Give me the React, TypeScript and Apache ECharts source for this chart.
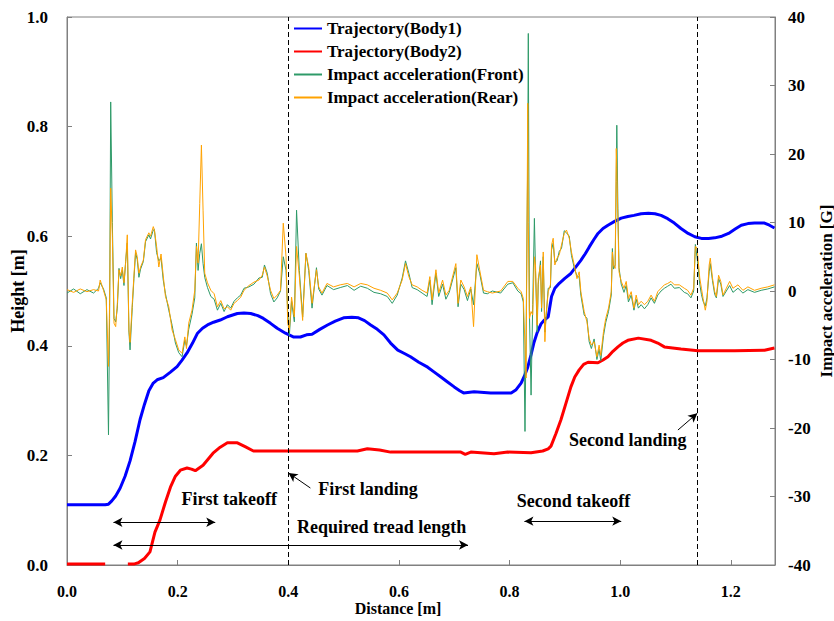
import React, { useEffect, useRef } from "react";
import * as echarts from "echarts";

// Trajectory of Body1: [distance m, height m]
const body1: [number, number][] = [
  [0, 0.11], [0.069, 0.11], [0.075, 0.111], [0.081, 0.117], [0.088, 0.126], [0.096, 0.14],
  [0.105, 0.162], [0.114, 0.19], [0.123, 0.225], [0.132, 0.265], [0.14, 0.293], [0.148, 0.318],
  [0.156, 0.332], [0.163, 0.338], [0.174, 0.342], [0.187, 0.352], [0.199, 0.362], [0.208, 0.374],
  [0.217, 0.387], [0.227, 0.405], [0.236, 0.423], [0.245, 0.432], [0.254, 0.438], [0.265, 0.443],
  [0.277, 0.447], [0.29, 0.453], [0.308, 0.459], [0.32, 0.46], [0.332, 0.459], [0.345, 0.455],
  [0.355, 0.45], [0.368, 0.441], [0.38, 0.432], [0.395, 0.423], [0.41, 0.416], [0.422, 0.416],
  [0.433, 0.42], [0.443, 0.421], [0.457, 0.43], [0.471, 0.438], [0.485, 0.445], [0.5, 0.451],
  [0.515, 0.452], [0.527, 0.451], [0.538, 0.446], [0.549, 0.438], [0.561, 0.43], [0.573, 0.42],
  [0.585, 0.405], [0.598, 0.392], [0.61, 0.386], [0.621, 0.38], [0.636, 0.37], [0.652, 0.361],
  [0.664, 0.352], [0.676, 0.343], [0.688, 0.334], [0.7, 0.325], [0.71, 0.318], [0.717, 0.314],
  [0.736, 0.316], [0.766, 0.314], [0.79, 0.314], [0.803, 0.314], [0.812, 0.32], [0.821, 0.332],
  [0.827, 0.345], [0.833, 0.361], [0.839, 0.384], [0.844, 0.405], [0.85, 0.424], [0.857, 0.44],
  [0.863, 0.447], [0.87, 0.453], [0.876, 0.49], [0.882, 0.505], [0.89, 0.514], [0.9, 0.523],
  [0.911, 0.532], [0.92, 0.544], [0.929, 0.556], [0.937, 0.568], [0.944, 0.58], [0.952, 0.593],
  [0.96, 0.605], [0.969, 0.614], [0.978, 0.62], [0.99, 0.627], [1.002, 0.633], [1.014, 0.636],
  [1.025, 0.638], [1.038, 0.641], [1.051, 0.642], [1.063, 0.641], [1.074, 0.638], [1.086, 0.632],
  [1.098, 0.624], [1.11, 0.614], [1.123, 0.605], [1.135, 0.599], [1.147, 0.596], [1.16, 0.596],
  [1.171, 0.597], [1.184, 0.6], [1.196, 0.605], [1.208, 0.613], [1.219, 0.62], [1.231, 0.623],
  [1.243, 0.624], [1.261, 0.624], [1.27, 0.62], [1.279, 0.615],
];

// Trajectory of Body2: [distance m, height m] ("-" = no data)
const body2: (number | string)[][] = [
  [0, 0.002], [0.069, 0.002], [0.09, "-"], [0.11, 0.002], [0.122, 0.002], [0.129, 0.004],
  [0.14, 0.012], [0.15, 0.024], [0.159, 0.06], [0.168, 0.082], [0.178, 0.115], [0.187, 0.142],
  [0.196, 0.162], [0.205, 0.173], [0.217, 0.177], [0.225, 0.175], [0.232, 0.172], [0.246, 0.182],
  [0.255, 0.193], [0.264, 0.204], [0.277, 0.215], [0.29, 0.223], [0.308, 0.223], [0.322, 0.216],
  [0.337, 0.208], [0.398, 0.208], [0.525, 0.208], [0.543, 0.212], [0.565, 0.21], [0.585, 0.206],
  [0.712, 0.206], [0.72, 0.202], [0.73, 0.206], [0.772, 0.203], [0.797, 0.206], [0.839, 0.205],
  [0.86, 0.208], [0.87, 0.212], [0.875, 0.217], [0.884, 0.24], [0.893, 0.265], [0.902, 0.295],
  [0.911, 0.325], [0.918, 0.343], [0.926, 0.356], [0.934, 0.366], [0.942, 0.37], [0.96, 0.369],
  [0.969, 0.374], [0.978, 0.38], [0.987, 0.39], [0.996, 0.398], [1.005, 0.405], [1.014, 0.41],
  [1.033, 0.414], [1.056, 0.41], [1.068, 0.405], [1.08, 0.398], [1.095, 0.396], [1.11, 0.394],
  [1.141, 0.391], [1.207, 0.391], [1.261, 0.392], [1.279, 0.396],
];

// Impact acceleration samples (distance m)
const accX = [
  0, 0.012, 0.024, 0.036, 0.048, 0.057, 0.06, 0.066, 0.071, 0.075, 0.077, 0.079, 0.082, 0.085,
  0.088, 0.091, 0.094, 0.097, 0.1, 0.103, 0.106, 0.109, 0.112, 0.114, 0.118, 0.121, 0.124, 0.127,
  0.13, 0.133, 0.138, 0.142, 0.148, 0.151, 0.156, 0.158, 0.162, 0.166, 0.17, 0.174, 0.178, 0.184,
  0.19, 0.196, 0.202, 0.208, 0.213, 0.216, 0.22, 0.226, 0.231, 0.234, 0.237, 0.24, 0.243, 0.246,
  0.249, 0.254, 0.26, 0.266, 0.272, 0.278, 0.284, 0.29, 0.296, 0.302, 0.308, 0.314, 0.32, 0.329,
  0.338, 0.347, 0.353, 0.357, 0.362, 0.368, 0.374, 0.38, 0.386, 0.391, 0.396, 0.399, 0.402, 0.406,
  0.411, 0.415, 0.42, 0.426, 0.432, 0.437, 0.443, 0.451, 0.455, 0.461, 0.47, 0.482, 0.494, 0.507,
  0.519, 0.531, 0.543, 0.555, 0.567, 0.579, 0.588, 0.597, 0.606, 0.612, 0.618, 0.624, 0.633, 0.642,
  0.651, 0.656, 0.66, 0.667, 0.672, 0.679, 0.685, 0.691, 0.703, 0.707, 0.712, 0.718, 0.724, 0.73,
  0.735, 0.741, 0.746, 0.753, 0.76, 0.769, 0.784, 0.797, 0.806, 0.815, 0.821, 0.825, 0.828, 0.83,
  0.833, 0.834, 0.836, 0.839, 0.842, 0.845, 0.847, 0.85, 0.852, 0.856, 0.858, 0.861, 0.864, 0.866,
  0.87, 0.874, 0.876, 0.879, 0.882, 0.886, 0.89, 0.894, 0.899, 0.903, 0.908, 0.912, 0.917, 0.922,
  0.926, 0.929, 0.935, 0.94, 0.944, 0.948, 0.953, 0.958, 0.962, 0.965, 0.97, 0.974, 0.979, 0.984,
  0.986, 0.988, 0.991, 0.993, 0.994, 0.996, 0.998, 1.002, 1.007, 1.011, 1.015, 1.02, 1.025, 1.029,
  1.033, 1.038, 1.044, 1.05, 1.056, 1.062, 1.068, 1.074, 1.08, 1.086, 1.092, 1.098, 1.107, 1.116,
  1.122, 1.128, 1.133, 1.136, 1.139, 1.144, 1.147, 1.15, 1.154, 1.157, 1.161, 1.163, 1.167, 1.171,
  1.174, 1.178, 1.182, 1.186, 1.192, 1.198, 1.204, 1.213, 1.222, 1.231, 1.243, 1.255, 1.267, 1.279,
];

// Impact acceleration (Front) [G]
const accFront = [
  -0.3, 0.3, -0.4, 0.2, -0.3, 0.4, 1.2, 0.3, -1.0, -21.0, -4.0, 27.6, 10.0, -4.0,
  -4.5, -2.5, 3.3, 1.8, 3.0, 0.8, 4.3, 7.0, -6.0, -8.6, -2.4, 1.8, 5.6, 4.6,
  2.0, 3.2, 4.3, 7.2, 8.2, 7.6, 8.9, 9.0, 5.6, 4.4, 4.8, 1.6, -0.4, -2.8,
  -5.0, -7.6, -9.0, -9.6, -7.2, -8.0, -5.6, -3.4, -1.0, 7.0, 3.0, 5.5, 6.9, 4.0,
  2.0, 0.5, -0.8, -1.2, -2.8, -1.8, -3.0, -2.0, -2.5, -1.5, -1.0, -0.6, 0.4, 0.6,
  1.0, 1.9, 2.0, 3.8, 2.6, -0.4, -1.6, -1.0, 0.0, 5.0, 3.0, -3.0, -6.5, -1.5,
  -4.5, 11.8, 3.0, -3.8, 5.5, 3.0, -2.5, 3.4, 0.3, -0.6, 0.8, 0.2, 0.5, 0.8,
  0.1, 0.7, 0.4, -0.2, -0.4, -0.8, -1.8, -0.6, 1.9, 4.4, 2.6, 0.5, 0.2, -0.3,
  -0.8, 1.6, -2.0, 2.6, -0.8, 1.0, -1.2, -0.2, 3.4, -2.3, 1.0, 0.2, -1.4, 0.3,
  -2.0, 4.0, 2.6, -0.3, -0.4, 0.0, -0.3, 1.0, 1.2, 0.0, -0.4, -1.6, -20.5, -6.0,
  20.0, 37.6, -3.0, -15.2, -2.0, 10.6, 3.0, -6.0, 1.0, 4.4, -3.0, 5.0, -6.0, -4.0,
  0.4, 0.5, 6.0, 7.0, 4.2, 4.4, 5.8, 6.2, 8.8, 8.5, 8.0, 5.2, 3.4, 2.2,
  2.0, -0.6, -3.5, -4.0, -7.4, -8.4, -7.0, -10.0, -8.5, -10.2, -6.5, -4.6, -3.0, -0.6,
  6.2, 3.2, 3.8, 16.0, 24.2, 12.0, 3.4, 1.0, -0.2, 0.8, -1.6, -0.6, -2.8, -1.2,
  -2.5, -2.0, -2.6, -2.0, -1.0, -1.8, -0.6, 0.0, 0.4, 0.7, 1.0, 0.4, 0.5, -0.2,
  -0.4, -1.0, 0.0, 6.8, 5.0, 1.0, -0.5, -1.5, -2.2, -1.0, 2.8, 4.0, 1.5, -0.5,
  -1.0, 1.8, 1.0, -0.8, 0.0, 0.8, -0.2, 0.4, -0.3, 0.2, -0.2, 0.1, 0.3, 0.6,
];

// Impact acceleration (Rear) [G]
const accRear = [
  0.2, -0.2, 0.3, -0.1, 0.2, 0.0, 1.6, 0.1, -1.3, -11.0, -2.0, 15.0, 8.0, -4.7,
  -5.2, -1.8, 3.1, 2.2, 3.5, 1.2, 4.1, 8.2, -5.7, -7.5, -1.8, 2.2, 6.0, 5.0,
  2.6, 3.5, 4.5, 7.5, 8.5, 8.0, 9.4, 8.9, 6.5, 3.5, 5.4, 2.2, -0.8, -2.3,
  -5.7, -7.1, -8.6, -9.1, -6.7, -8.4, -4.7, -2.8, 0.1, 6.5, 4.1, 12.8, 21.3, 11.8,
  2.6, 1.2, 0.1, -0.4, -2.3, -1.4, -2.6, -2.3, -2.8, -1.8, -1.4, -0.9, 0.1, 0.8,
  1.3, 1.6, 2.3, 3.5, 2.2, 0.1, -1.1, -0.6, 0.1, 9.9, 5.0, -4.7, -5.7, -0.9,
  -3.8, 6.5, 2.2, -4.3, 5.5, 3.5, -1.8, 3.1, 0.6, -0.3, 1.1, 0.6, 0.9, 1.1,
  0.6, 1.1, 0.9, 0.4, 0.1, -0.3, -1.3, -0.3, 1.6, 4.0, 2.1, 0.9, 0.6, 0.1,
  -0.3, 2.1, -1.3, 3.1, -0.3, 1.6, -0.6, 0.1, 4.0, -1.8, 1.6, 0.6, -0.8, 0.6,
  -5.2, 5.3, 3.1, 0.1, -0.1, -0.3, 0.0, 1.4, 1.4, 0.4, -0.1, -1.1, -8.0, -12.7,
  27.4, 10.0, -4.0, -3.0, -3.5, 5.0, 3.8, -5.0, 1.8, 3.8, -2.5, 5.7, -7.4, -3.5,
  -0.1, 0.9, 6.7, 7.7, 3.8, 4.8, 5.3, 6.7, 8.4, 8.9, 7.7, 5.7, 3.8, 1.8,
  2.8, -0.1, -3.0, -4.5, -6.9, -7.9, -7.4, -9.6, -7.9, -9.4, -5.9, -4.0, -2.5, -0.1,
  5.7, 3.8, 3.3, 20.8, 18.0, 10.1, 2.8, 1.4, 0.4, 1.4, -1.1, -0.1, -2.5, -0.6,
  -2.0, -1.5, -2.0, -1.5, -0.6, -1.5, -0.1, 0.4, 0.9, 1.1, 1.4, 0.9, 0.9, 0.4,
  0.1, -0.6, 0.4, 6.5, 6.3, 1.9, 0.4, -1.1, -2.8, -1.5, 3.8, 4.8, 1.9, -0.1,
  -0.8, 2.3, 1.4, -0.6, 0.4, 1.4, 0.4, 0.9, 0.1, 0.6, 0.1, 0.4, 0.6, 0.9,
];

// Annotations (data coordinates on the height axis)
const landingLines = [0.398, 1.139];
const doubleArrows: [number, number, number, number][] = [
  [0.084, 0.078, 0.268, 0.078],
  [0.084, 0.0365, 0.725, 0.0365],
  [0.827, 0.08, 1.002, 0.08],
];
const pointerArrows: [number, number, number, number][] = [
  [0.44, 0.1405, 0.4005, 0.168],
  [1.1045, 0.2463, 1.1395, 0.2768],
];
const noteTexts: [string, number, number][] = [
  ["First takeoff", 0.2935, 0.1204],
  ["First landing", 0.5444, 0.1387],
  ["Required tread length", 0.5688, 0.0693],
  ["Second takeoff", 0.9158, 0.1168],
  ["Second landing", 1.0136, 0.2281],
];

const FONT = "'Liberation Serif', 'Times New Roman', serif";

export default function App() {
  const ref = useRef<HTMLDivElement>(null);
  useEffect(() => {
    if (!ref.current) return;
    const chart = echarts.init(ref.current, null, { renderer: "svg" });
    const axisLine = { lineStyle: { color: "#808080", width: 1 } };
    const labelStyle = { color: "#000", fontFamily: FONT, fontWeight: "bold" as const, fontSize: 17 };
    const nameStyle = { color: "#000", fontFamily: FONT, fontWeight: "bold" as const, fontSize: 17 };

    const markLineData: any[] = [];
    landingLines.forEach((x) =>
      markLineData.push({ xAxis: x, lineStyle: { type: [5, 3], color: "#000", width: 1 } })
    );
    doubleArrows.forEach(([x1, y1, x2, y2]) =>
      markLineData.push([
        { coord: [x1, y1], symbol: "arrow" },
        { coord: [x2, y2], symbol: "arrow" },
      ])
    );
    pointerArrows.forEach(([x1, y1, x2, y2]) =>
      markLineData.push([
        { coord: [x1, y1], symbol: "none" },
        { coord: [x2, y2], symbol: "arrow" },
      ])
    );

    chart.setOption({
      animation: false,
      backgroundColor: "#fff",
      grid: {
        left: 67,
        right: 59,
        top: 17,
        bottom: 56,
        show: true,
        borderColor: "#808080",
        borderWidth: 1,
        containLabel: false,
        outerBoundsMode: "none",
      },
      legend: {
        orient: "vertical",
        left: 293,
        top: 20,
        padding: 0,
        itemWidth: 28,
        itemHeight: 14,
        itemGap: 6,
        itemStyle: { opacity: 0 },
        textStyle: { color: "#000", fontFamily: FONT, fontWeight: "bold", fontSize: 17 },
        data: ["Trajectory(Body1)", "Trajectory(Body2)", "Impact acceleration(Front)", "Impact acceleration(Rear)"],
      },
      xAxis: {
        type: "value",
        min: 0,
        max: 1.28,
        interval: 0.2,
        name: "Distance [m]",
        nameLocation: "middle",
        nameGap: 35,
        nameMoveOverlap: false,
        nameTextStyle: { ...nameStyle, fontSize: 16, padding: [0, 46, 0, 0] },
        axisLine,
        axisTick: { inside: true, length: 5, lineStyle: { color: "#808080" } },
        axisLabel: { ...labelStyle, fontSize: 16, margin: 18, showMaxLabel: false, formatter: (v: number) => v.toFixed(1) },
        splitLine: { show: false },
      },
      yAxis: [
        {
          type: "value",
          min: 0,
          max: 1,
          interval: 0.2,
          name: "Height [m]",
          nameLocation: "middle",
          nameRotate: 90,
          nameGap: 49,
          nameMoveOverlap: false,
          nameTextStyle: { ...nameStyle, fontSize: 18, verticalAlign: "middle" },
          axisLine: { show: true, ...axisLine },
          axisTick: { show: true, inside: true, length: 5, lineStyle: { color: "#808080" } },
          axisLabel: { ...labelStyle, margin: 19, formatter: (v: number) => v.toFixed(1) },
          splitLine: { show: false },
        },
        {
          type: "value",
          min: -40,
          max: 40,
          interval: 10,
          position: "right",
          name: "Impact acceleration [G]",
          nameLocation: "middle",
          nameRotate: 90,
          nameGap: 51,
          nameMoveOverlap: false,
          nameTextStyle: { ...nameStyle, verticalAlign: "middle" },
          axisLine: { show: true, ...axisLine },
          axisTick: { show: true, inside: true, length: 5, lineStyle: { color: "#808080" } },
          axisLabel: { ...labelStyle, margin: 13 },
          splitLine: { show: false },
        },
      ],
      series: [
        {
          name: "Trajectory(Body1)",
          type: "line",
          yAxisIndex: 0,
          data: body1,
          symbol: "none",
          showSymbol: false,
          lineStyle: { color: "#0000ff", width: 3 },
          itemStyle: { color: "#0000ff" },
          markLine: {
            silent: true,
            animation: false,
            symbol: ["none", "none"],
            symbolSize: [7, 9],
            label: { show: false },
            lineStyle: { color: "#000", width: 1, type: "solid" },
            data: markLineData,
          },
          markPoint: {
            silent: true,
            animation: false,
            symbol: "rect",
            symbolSize: 1,
            itemStyle: { color: "rgba(0,0,0,0)" },
            label: {
              show: true,
              position: "inside",
              formatter: "{b}",
              color: "#000",
              fontFamily: FONT,
              fontWeight: "bold",
              fontSize: 18,
            },
            data: noteTexts.map(([t, x, y]) => ({ name: t, coord: [x, y] })),
          },
        },
        {
          name: "Trajectory(Body2)",
          type: "line",
          yAxisIndex: 0,
          data: body2,
          symbol: "none",
          showSymbol: false,
          connectNulls: false,
          lineStyle: { color: "#ff0000", width: 3 },
          itemStyle: { color: "#ff0000" },
        },
        {
          name: "Impact acceleration(Front)",
          type: "line",
          yAxisIndex: 1,
          data: accX.map((x, i) => [x, accFront[i]]),
          symbol: "none",
          showSymbol: false,
          lineStyle: { color: "#2e9a68", width: 1 },
          itemStyle: { color: "#2e9a68" },
        },
        {
          name: "Impact acceleration(Rear)",
          type: "line",
          yAxisIndex: 1,
          data: accX.map((x, i) => [x, accRear[i]]),
          symbol: "none",
          showSymbol: false,
          lineStyle: { color: "#ffa200", width: 1 },
          itemStyle: { color: "#ffa200" },
        },
      ],
    });
    return () => chart.dispose();
  }, []);
  return <div ref={ref} style={{ position: "fixed", left: 0, top: 0, width: 834, height: 621 }} />;
}
